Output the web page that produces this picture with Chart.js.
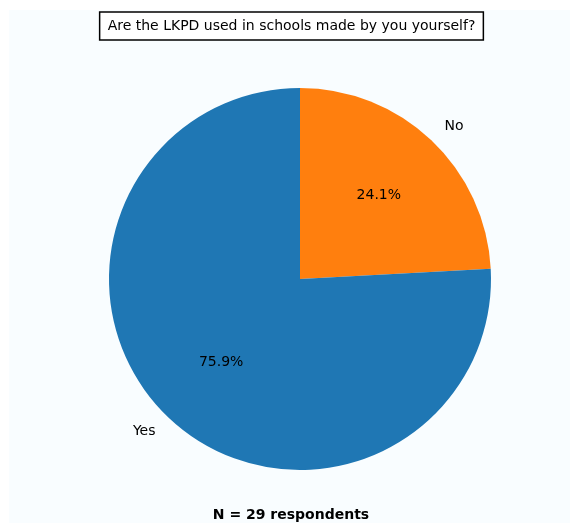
<!DOCTYPE html>
<html>
<head>
<meta charset="utf-8">
<script src="https://cdn.jsdelivr.net/npm/chart.js@4"></script>
<style>
  html, body { margin: 0; padding: 0; background: #ffffff; }
  #wrap { width: 570px; height: 523px; }
</style>
</head>
<body>
<div id="wrap"><canvas id="pieChart" width="570" height="523"></canvas></div>
<script>
const titleText = "Are the LKPD used in schools made by you yourself?";
const footerText = "N = 29 respondents";
const labels = ["No", "Yes"];
const counts = [7, 22];
const colors = ["#ff7f0e", "#1f77b4"];

const total = counts.reduce((a, b) => a + b, 0);

// background, title box, slice labels and footer
const decor = {
  id: "decor",
  beforeDraw(chart) {
    const c = chart.ctx;
    c.save();
    c.fillStyle = "#ffffff";
    c.fillRect(0, 0, chart.width, chart.height);
    c.fillStyle = "#f9fdff";
    c.fillRect(9, 10, chart.width - 9, chart.height - 10);
    c.restore();
  },
  afterDraw(chart) {
    const c = chart.ctx;
    c.save();
    c.font = "14px 'DejaVu Sans'";
    c.textBaseline = "middle";

    // title in a box
    const tw = c.measureText(titleText).width;
    const tx = 291.5, ty = 26;
    c.fillStyle = "#ffffff";
    c.fillRect(tx - tw / 2 - 8, 12, tw + 16, 28);
    c.strokeStyle = "#000000";
    c.lineWidth = 1.5;
    c.strokeRect(tx - tw / 2 - 8, 12, tw + 16, 28);
    c.fillStyle = "#000000";
    c.textAlign = "center";
    c.fillText(titleText, tx, ty);

    // labels and percentages
    const meta = chart.getDatasetMeta(0);
    meta.data.forEach((arc, i) => {
      const mid = (arc.startAngle + arc.endAngle) / 2;
      const r = arc.outerRadius;
      const cx = Math.cos(mid), sy = Math.sin(mid);
      const lx = arc.x + 1.1 * r * cx;
      const ly = arc.y + 1.1 * r * sy;
      c.textAlign = cx >= 0 ? "left" : "right";
      c.fillText(labels[i], lx, ly);
      const px = arc.x + 0.6 * r * cx;
      const py = arc.y + 0.6 * r * sy;
      c.textAlign = "center";
      c.fillText((counts[i] / total * 100).toFixed(1) + "%", px, py);
    });

    // footer
    c.font = "bold 14px 'DejaVu Sans'";
    c.textAlign = "center";
    c.fillText(footerText, 291, 515);
    c.restore();
  }
};

new Chart(document.getElementById("pieChart"), {
  type: "pie",
  data: {
    labels: labels,
    datasets: [
      {
        data: counts,
        backgroundColor: colors,
        borderWidth: 0,
      },
    ],
  },
  options: {
    responsive: false,
    animation: false,
    layout: {
      padding: { left: 109, right: 79, top: 88, bottom: 53 },
    },
    plugins: {
      legend: { display: false },
      tooltip: { enabled: false },
      title: { display: false },
    },
  },
  plugins: [decor],
});
</script>
</body>
</html>
